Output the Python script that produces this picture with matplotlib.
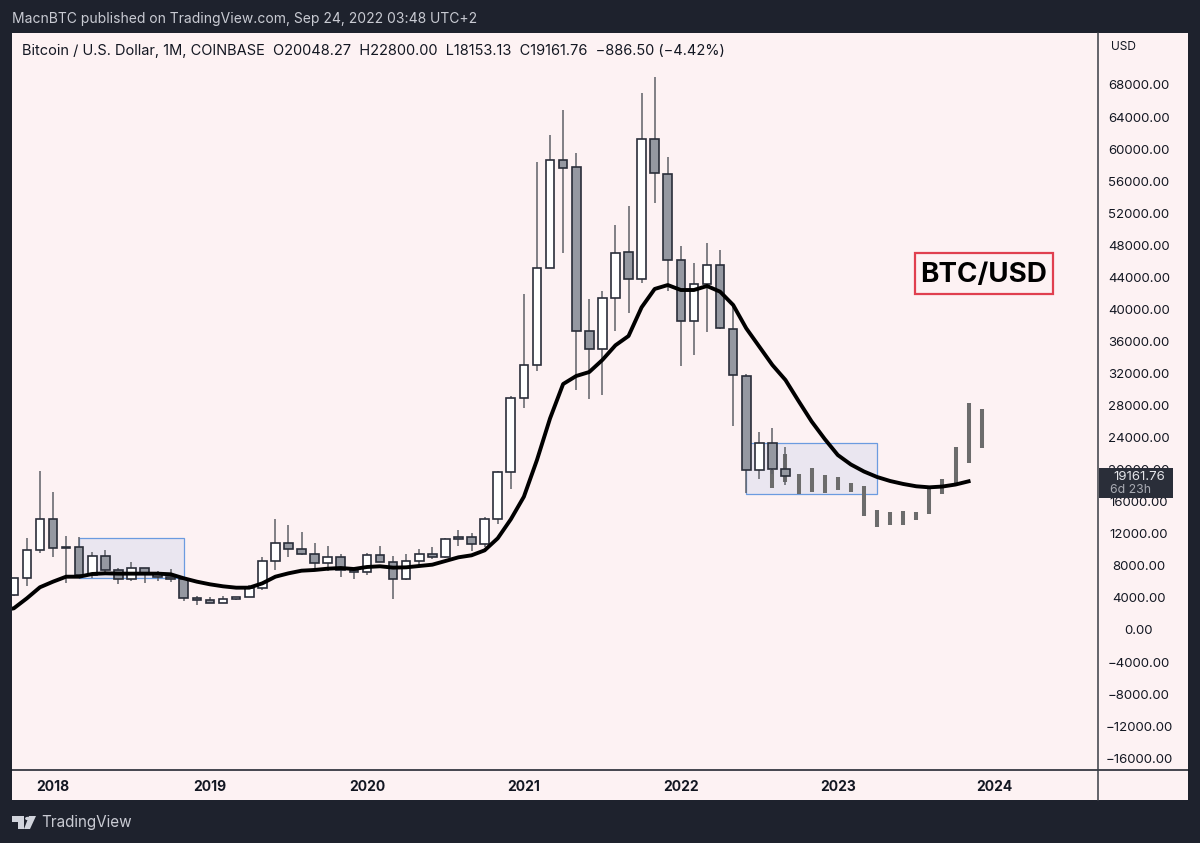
#!/usr/bin/env python3
import numpy as np
import matplotlib

matplotlib.use("Agg")
import matplotlib.pyplot as plt
from matplotlib.lines import Line2D
from matplotlib.patches import Polygon, Rectangle

plt.rcParams["font.family"] = ["Inter", "DejaVu Sans"]

W, H = 1200, 843
BG = "#fdf2f3"
FRAME = "#1e222d"

# monthly candles, Oct 2017 .. Sep 2022
opens = [4370, 6450, 9950, 13850, 10220, 10300, 6900, 9240, 7500, 6390, 7730, 7010,
         6620, 6320, 4040, 3740, 3410, 3820, 4100, 5260, 8570, 10800, 10060, 9520,
         8300, 9150, 7540, 7190, 9350, 8530, 6420, 8630, 9450, 9140, 11650, 11650,
         10780, 13800, 19700, 28900, 33100, 45170, 58700, 57730, 37270, 35040, 41400, 47100,
         43800, 61300, 56950, 46150, 38500, 43150, 45500, 37600, 31750, 19950, 23300, 20048]
closes = [6450, 9950, 13850, 10220, 10300, 6900, 9240, 7500, 6390, 7730, 7010, 6620,
          6320, 4040, 3740, 3410, 3820, 4100, 5260, 8570, 10800, 10090, 9520, 8300,
          9150, 7540, 7190, 9350, 8530, 6420, 8630, 9450, 9140, 11350, 11350, 10780,
          13800, 19700, 28900, 33060, 45170, 58700, 57700, 37270, 35040, 41400, 47040, 43800,
          61300, 57000, 46200, 38500, 43150, 45500, 37650, 31800, 19950, 23300, 20050, 19161.76]
highs = [6470, 11480, 19891, 17200, 11700, 11600, 9750, 9990, 7750, 8480, 7730, 7300,
         7600, 6600, 4300, 4070, 4200, 4100, 5630, 9090, 13880, 13150, 12270, 10900,
         10520, 9500, 7750, 9580, 10500, 9190, 9500, 10080, 10400, 11450, 12480, 12050,
         14100, 19900, 29250, 41900, 58350, 61790, 64860, 59550, 41260, 42330, 50500, 52900,
         66960, 69000, 59050, 47950, 45800, 48250, 47400, 40800, 31950, 24670, 25200, 22800]
lows = [4200, 5500, 9600, 9100, 5900, 6500, 6500, 7000, 5800, 6100, 5900, 6100,
        6000, 3600, 3150, 3350, 3380, 3700, 4100, 5000, 7450, 9100, 9370, 7740,
        7300, 6600, 6420, 6850, 8450, 3860, 6200, 8100, 8900, 8980, 10540, 9880,
        10400, 13200, 17600, 27700, 32300, 45120, 47070, 29950, 28800, 29300, 37300, 39600,
        43280, 53300, 42300, 32950, 34300, 37150, 37600, 25400, 17100, 18800, 19500, 18153.13]

# moving average, Sep 2017 .. Nov 2023
ma_values = [2450, 2700, 3950, 5330, 6030, 6650, 6650, 6990, 7070, 7030, 7030, 7030, 7030,
             6950, 6450, 6030, 5700, 5450, 5280, 5280, 5820, 6650, 7070, 7400, 7490, 7650,
             7735, 7610, 7860, 7950, 7780, 7820, 7985, 8150, 8610, 9070, 9320, 9940, 11440,
             13810, 16630, 21210, 26400, 30690, 31690, 32190, 33690, 35520, 36680, 40260,
             42550, 43040, 42420, 42420, 42920, 42210, 40550, 37640, 35350, 33060, 31190,
             28570, 26015, 23830, 21830, 20650, 19775, 19090, 18590, 18220, 17930, 17800,
             17900, 18150, 18550]

# projected bars, Aug 2022 .. Dec 2023
ghost_highs = [19963, 21959, 19505, 20254, 19339, 19048, 18299, 17967, 15014, 14722,
               14889, 14722, 17675, 18881, 22791, 28281, 27532]
ghost_lows = [17717, 18466, 17010, 17260, 17093, 17426, 17260, 14265, 12851, 13142,
              13142, 13724, 14515, 16968, 18382, 20877, 22708]

price_ticks = list(range(-16000, 68001, 4000))
year_labels = ["2018", "2019", "2020", "2021", "2022", "2023", "2024"]


def main():
    fig = plt.figure(figsize=(W / 100, H / 100), dpi=100, facecolor=FRAME)

    def fx(px):
        return px / W

    def fy(py):
        return 1 - py / H

    # panel behind everything
    fig.add_artist(Rectangle((fx(12), fy(800)), 1176 / W, 767 / H, transform=fig.transFigure,
                             facecolor=BG, edgecolor="none", zorder=-5))

    ax = fig.add_axes([fx(12), fy(770), 1086 / W, 737 / H], facecolor=BG)
    # months since Jan 2018; 13.08 px per month with Jan 2018 at x=53
    ax.set_xlim((12 - 53) / 13.08, (1098 - 53) / 13.08)
    ax.set_ylim((630 - 770) / 0.008015, (630 - 33) / 0.008015)

    for s in ax.spines.values():
        s.set_visible(False)

    # blue ranges
    for x0, x1, y0, y1 in [(2, 10, 6530, 11520), (53, 63, 16970, 23290)]:
        ax.add_patch(Rectangle((x0, y0), x1 - x0, y1 - y0, facecolor="#b9c8ea", alpha=0.28,
                               edgecolor="none", zorder=1))
        ax.add_patch(Rectangle((x0, y0), x1 - x0, y1 - y0, facecolor="none",
                               edgecolor="#6b9be0", linewidth=0.9, zorder=1.1))

    # projected bars
    gx = np.arange(len(ghost_highs)) + 55
    ax.vlines(gx, ghost_lows, ghost_highs, color="#6c6c6c", linewidth=2.9, zorder=2,
              capstyle="butt")

    # candles
    cx = np.arange(len(opens)) - 3
    o, c = np.array(opens), np.array(closes)
    ax.vlines(cx, lows, highs, color="#5f6167", linewidth=1.1, zorder=3)
    up = c >= o
    colors = ["#ffffff" if u else "#9598a1" for u in up]
    ax.bar(cx, np.abs(c - o), bottom=np.minimum(o, c), width=0.66, color=colors,
           edgecolor="#2a2e39", linewidth=1.2, zorder=4)

    # moving average
    mx = np.arange(len(ma_values)) - 4
    ax.plot(mx, ma_values, color="#000000", linewidth=2.8, zorder=5, solid_joinstyle="round")

    # scales
    ax.yaxis.tick_right()
    ax.set_yticks(price_ticks)
    ax.set_yticklabels([f"{v:.2f}".replace("-", "\u2212") for v in price_ticks])
    ax.tick_params(axis="y", length=0, pad=29.5, labelsize=9.5, labelcolor="#131722")
    for t in ax.get_yticklabels():
        t.set_ha("center")
    ax.set_xticks(np.arange(len(year_labels)) * 12)
    ax.set_xticklabels(year_labels)
    ax.tick_params(axis="x", length=0, pad=7.5, labelsize=10, labelcolor="#131722")
    for t in ax.get_xticklabels():
        t.set_fontweight("bold")

    # separators
    fig.add_artist(Line2D([fx(12), fx(1188)], [fy(770), fy(770)], color="#131722", linewidth=1.1))
    fig.add_artist(Line2D([fx(1098), fx(1098)], [fy(33), fy(800)], color="#3a3d45", linewidth=1.1))

    # price tag
    fig.add_artist(Rectangle((fx(1099), fy(498)), 74 / W, 30 / H, transform=fig.transFigure,
                             facecolor="#2a2e39", edgecolor="none", zorder=6))
    fig.text(fx(1139), fy(477), "19161.76", color="#e4e5ea", fontsize=9.5, ha="center",
             va="center", zorder=7)
    fig.text(fx(1110), fy(490.5), "6d 23h", color="#a9abb3", fontsize=8.8, ha="left",
             va="center", zorder=7)

    fig.text(fx(1111), fy(47), "USD", color="#131722", fontsize=8.6, ha="left", va="center")

    # labels
    fig.text(fx(12), fy(19), "MacnBTC published on TradingView.com, Sep 24, 2022 03:48 UTC+2",
             color="#c9cbd3", fontsize=10, ha="left", va="center")
    fig.text(fx(22), fy(51),
             "Bitcoin / U.S. Dollar, 1M, COINBASE  O20048.27  H22800.00  L18153.13  C19161.76"
             "  \u2212886.50 (\u22124.42%)",
             color="#131722", fontsize=10.5, ha="left", va="center")

    # BTC/USD label
    fig.add_artist(Rectangle((fx(915), fy(293.5)), 138 / W, 41 / H, transform=fig.transFigure,
                             facecolor="none", edgecolor="#e0404f", linewidth=1.6, zorder=6))
    fig.text(fx(984), fy(275), "BTC/USD", color="#000000", fontsize=20, fontweight="bold",
             ha="center", va="center", zorder=7)

    # footer logo and name
    logo = "#d1d4dc"
    fig.add_artist(Polygon([(fx(12), fy(816)), (fx(24), fy(816)), (fx(24), fy(829)), (fx(18), fy(829)),
                            (fx(18), fy(822)), (fx(12), fy(822))], closed=True,
                           transform=fig.transFigure, facecolor=logo, edgecolor="none"))
    fig.add_artist(Polygon([(fx(29), fy(816)), (fx(36), fy(816)), (fx(30), fy(829)), (fx(24), fy(829))],
                           closed=True, transform=fig.transFigure, facecolor=logo, edgecolor="none"))
    fig.add_artist(plt.Circle((fx(27.5), fy(818.5)), 2.4 / W, transform=fig.transFigure,
                              facecolor=logo, edgecolor="none"))
    fig.text(fx(41), fy(822), "TradingView", color="#c9cbd3", fontsize=11, ha="left", va="center")

    fig.savefig("out.png", dpi=100, facecolor=FRAME)


if __name__ == "__main__":
    main()
